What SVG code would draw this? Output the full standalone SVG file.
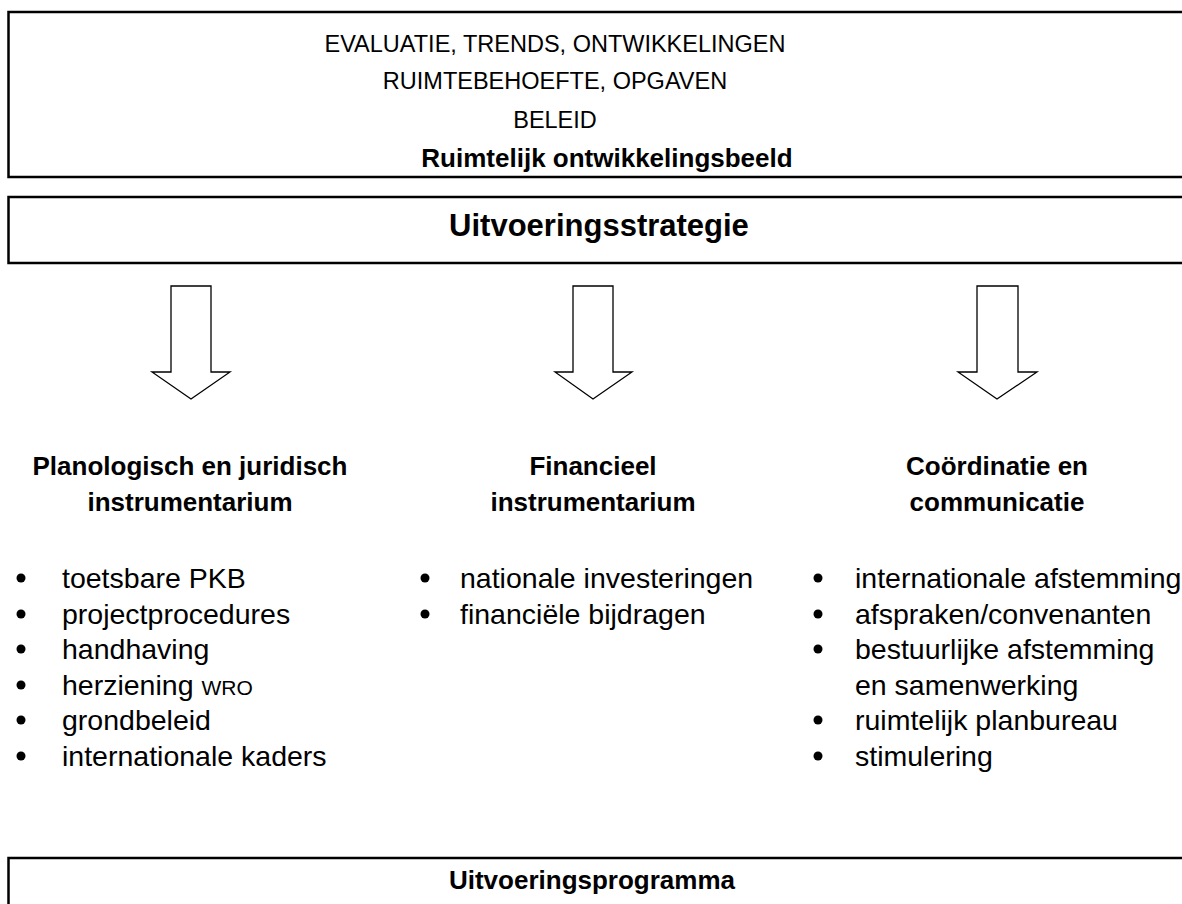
<svg xmlns="http://www.w3.org/2000/svg" width="1182" height="904" viewBox="0 0 1182 904">
<style>
.box{fill:none;stroke:#000;stroke-width:2.5}
.arr{fill:#fff;stroke:#000;stroke-width:1.3;stroke-linejoin:miter}
.cap{font-family:"Liberation Sans",Arial,sans-serif;font-size:23.5px;text-anchor:middle;fill:#000}
.bt{font-family:"Liberation Sans",Arial,sans-serif;font-size:26px;font-weight:bold;text-anchor:middle;fill:#000}
.big{font-size:31px}
.li{font-family:"Liberation Sans",Arial,sans-serif;font-size:28.5px;fill:#000}
.sc{font-size:21px}
</style>
<rect width="1182" height="904" fill="#fff"/>
<g id="ontwikkelingsbeeld">
<path class="box" d="M1190,12 H8.5 V177 H1190"/>
<text class="cap" x="555" y="52">EVALUATIE, TRENDS, ONTWIKKELINGEN</text>
<text class="cap" x="555" y="89">RUIMTEBEHOEFTE, OPGAVEN</text>
<text class="cap" x="555" y="128">BELEID</text>
<text class="bt" x="607" y="167">Ruimtelijk ontwikkelingsbeeld</text>
</g>
<g id="uitvoeringsstrategie">
<path class="box" d="M1190,197 H8.5 V263 H1190"/>
<text class="bt big" x="599" y="236">Uitvoeringsstrategie</text>
</g>
<g id="connectors">
<path class="arr" d="M171,286 H211 V372 H230 L191,399 L152,372 H171 Z"/>
<path class="arr" d="M573,286 H613 V372 H632 L593,399 L555,372 H573 Z"/>
<path class="arr" d="M977,286 H1018 V372 H1037 L997,399 L958,372 H977 Z"/>
</g>
<g id="planologisch">
<text class="bt" x="190" y="475">Planologisch en juridisch</text>
<text class="bt" x="190" y="511">instrumentarium</text>
<g class="li">
<circle cx="21" cy="578" r="4.5"/><text x="62" y="588">toetsbare PKB</text>
<circle cx="21" cy="614" r="4.5"/><text x="62" y="624">projectprocedures</text>
<circle cx="21" cy="649" r="4.5"/><text x="62" y="659">handhaving</text>
<circle cx="21" cy="685" r="4.5"/><text x="62" y="695">herziening <tspan class="sc">WRO</tspan></text>
<circle cx="21" cy="720" r="4.5"/><text x="62" y="730">grondbeleid</text>
<circle cx="21" cy="756" r="4.5"/><text x="62" y="766">internationale kaders</text>
</g>
</g>
<g id="financieel">
<text class="bt" x="593" y="475">Financieel</text>
<text class="bt" x="593" y="511">instrumentarium</text>
<g class="li">
<circle cx="425" cy="578" r="4.5"/><text x="460" y="588">nationale investeringen</text>
<circle cx="425" cy="614" r="4.5"/><text x="460" y="624">financiële bijdragen</text>
</g>
</g>
<g id="coordinatie">
<text class="bt" x="997" y="475">Coördinatie en</text>
<text class="bt" x="997" y="511">communicatie</text>
<g class="li">
<circle cx="818" cy="578" r="4.5"/><text x="855" y="588">internationale afstemming</text>
<circle cx="818" cy="614" r="4.5"/><text x="855" y="624">afspraken/convenanten</text>
<circle cx="818" cy="649" r="4.5"/><text x="855" y="659">bestuurlijke afstemming</text>
<text x="855" y="695">en samenwerking</text>
<circle cx="818" cy="720" r="4.5"/><text x="855" y="730">ruimtelijk planbureau</text>
<circle cx="818" cy="756" r="4.5"/><text x="855" y="766">stimulering</text>
</g>
</g>
<g id="uitvoeringsprogramma">
<path class="box" d="M1190,858 H8.5 V910"/>
<text class="bt" x="592" y="889">Uitvoeringsprogramma</text>
</g>
</svg>
